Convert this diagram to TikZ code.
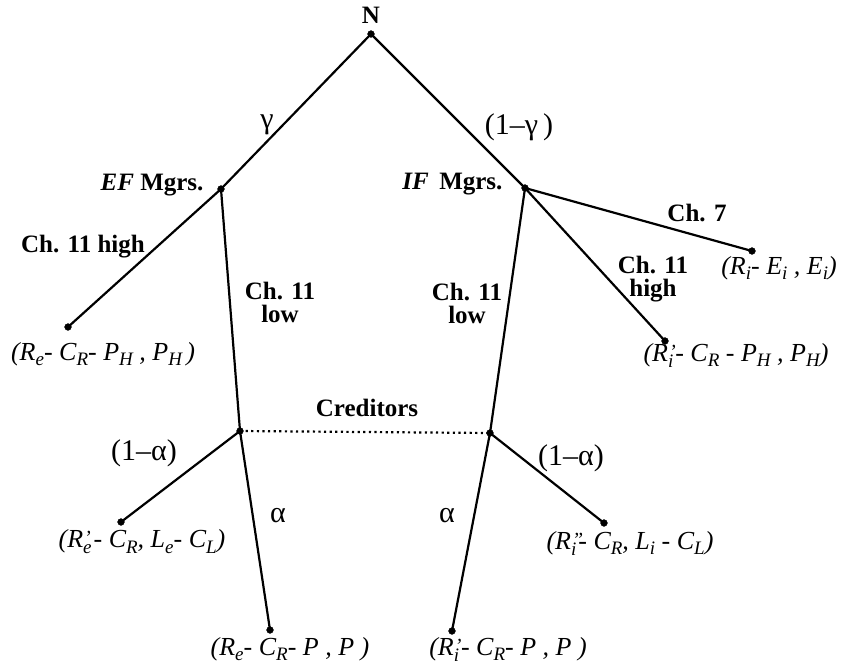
\documentclass[tikz,border=0pt]{standalone}
\usepackage{fontspec}
\setmainfont{Liberation Serif}
\usetikzlibrary{positioning}
\newcommand{\Sb}[2]{#1\raisebox{-0.45ex}{\fontsize{19}{19}\selectfont #2}}% letter with index
\newcommand{\SbP}[3]{#1\rlap{\kern1pt\raisebox{0.25ex}{\fontsize{20}{20}\selectfont #3}}\raisebox{-0.5ex}{\fontsize{19}{19}\selectfont #2}\kern2pt}% primed letter with index

\begin{document}
\begin{tikzpicture}[x=1pt,y=-1pt,
    lab/.style={font=\fontsize{25}{23}\selectfont\bfseries, align=center},
    prob/.style={font=\fontsize{30}{30}\selectfont},
    pay/.style={font=\fontsize{26}{26}\selectfont\itshape, inner sep=0pt},
    branch/.style={line width=2.2pt},
    dotnode/.style={fill=black}]

    \useasboundingbox (0,0) rectangle (855,665);

    % decision nodes
    \coordinate (N) at (371,34);
    \coordinate (EF) at (221,189);
    \coordinate (IF) at (525,188);
    \coordinate (EFlow) at (240,431);
    \coordinate (IFlow) at (490,433);

    % end nodes
    \coordinate (EFhigh) at (68,327);
    \coordinate (IFseven) at (752,251);
    \coordinate (IFhigh) at (665,341);
    \coordinate (EFliq) at (121,522);
    \coordinate (EFpay) at (270,630);
    \coordinate (IFpay) at (452,631);
    \coordinate (IFliq) at (604,523);

    \draw[branch] (N) -- (EF);
    \draw[branch] (N) -- (IF);
    \draw[branch] (EF) -- (EFhigh);
    \draw[branch] (EF) -- (EFlow);
    \draw[branch] (IF) -- (IFseven);
    \draw[branch] (IF) -- (IFhigh);
    \draw[branch] (IF) -- (IFlow);
    \draw[branch] (EFlow) -- (EFliq);
    \draw[branch] (EFlow) -- (EFpay);
    \draw[branch] (IFlow) -- (IFliq);
    \draw[branch] (IFlow) -- (IFpay);

    \draw[line width=2.2pt, dash pattern=on 2.2pt off 3.4pt] (EFlow) -- (IFlow);

    \foreach \p in {N,EF,IF,EFlow,IFlow,EFhigh,IFseven,IFhigh,EFliq,EFpay,IFpay,IFliq}
        \draw[dotnode] (\p) circle (3.4pt);

    % players
    \node[lab] (nlab) at (371,15) {N};
    \node[lab, anchor=east] (eflab) at (207,185) {\textit{EF} Mgrs.};
    \node[lab, anchor=east] (iflab) at (506,184) {\textit{IF}\, Mgrs.};
    \node[lab] (credlab) at (367,408) {Creditors};

    % probabilities
    \node[prob] (gam) at (267,125) {γ};
    \node[prob] (gam1) at (519,127) {(1–γ\,)};
    \node[prob] (alf1e) at (144,453) {(1–α)};
    \node[prob] (alfe) at (278,516) {α};
    \node[prob] (alfi) at (447,516) {α};
    \node[prob] (alf1i) at (571,458) {(1–α)};

    % actions
    \node[lab] (highe) at (83,247) {Ch. 11 high};
    \node[lab] (lowe) at (280,302) {Ch. 11\\low};
    \node[lab] (lowi) at (467,303) {Ch. 11\\low};
    \node[lab] (highi) at (653,279) {Ch. 11\\ high};
    \node[lab] (seven) at (697,213) {Ch. 7};

    % payoffs
    \node[pay] (payhighe) at (103,354) {(\Sb{R}{e}- \Sb{C}{R}- \Sb{P}{H} , \Sb{P}{H}\,)};
    \node[pay] (payseven) at (779,268) {(\Sb{R}{i}- \Sb{E}{i} , \Sb{E}{i})};
    \node[pay] (payhighi) at (736,355) {(\SbP{R}{i}{’} - \Sb{C}{R} - \Sb{P}{H} , \Sb{P}{H})};
    \node[pay] (payliqe) at (142,542) {(\SbP{R}{e}{’} - \Sb{C}{R}, \Sb{L}{e}- \Sb{C}{L})};
    \node[pay] (paypaye) at (290,649) {(\Sb{R}{e}- \Sb{C}{R}- \textit{P} , \textit{P} )};
    \node[pay] (paypayi) at (508,649) {(\SbP{R}{i}{’} - \Sb{C}{R}- \textit{P} , \textit{P} )};
    \node[pay] (payliqi) at (630,543) {(\SbP{R}{i}{”} - \Sb{C}{R}, \Sb{L}{i} - \Sb{C}{L})};

\end{tikzpicture}
\end{document}
